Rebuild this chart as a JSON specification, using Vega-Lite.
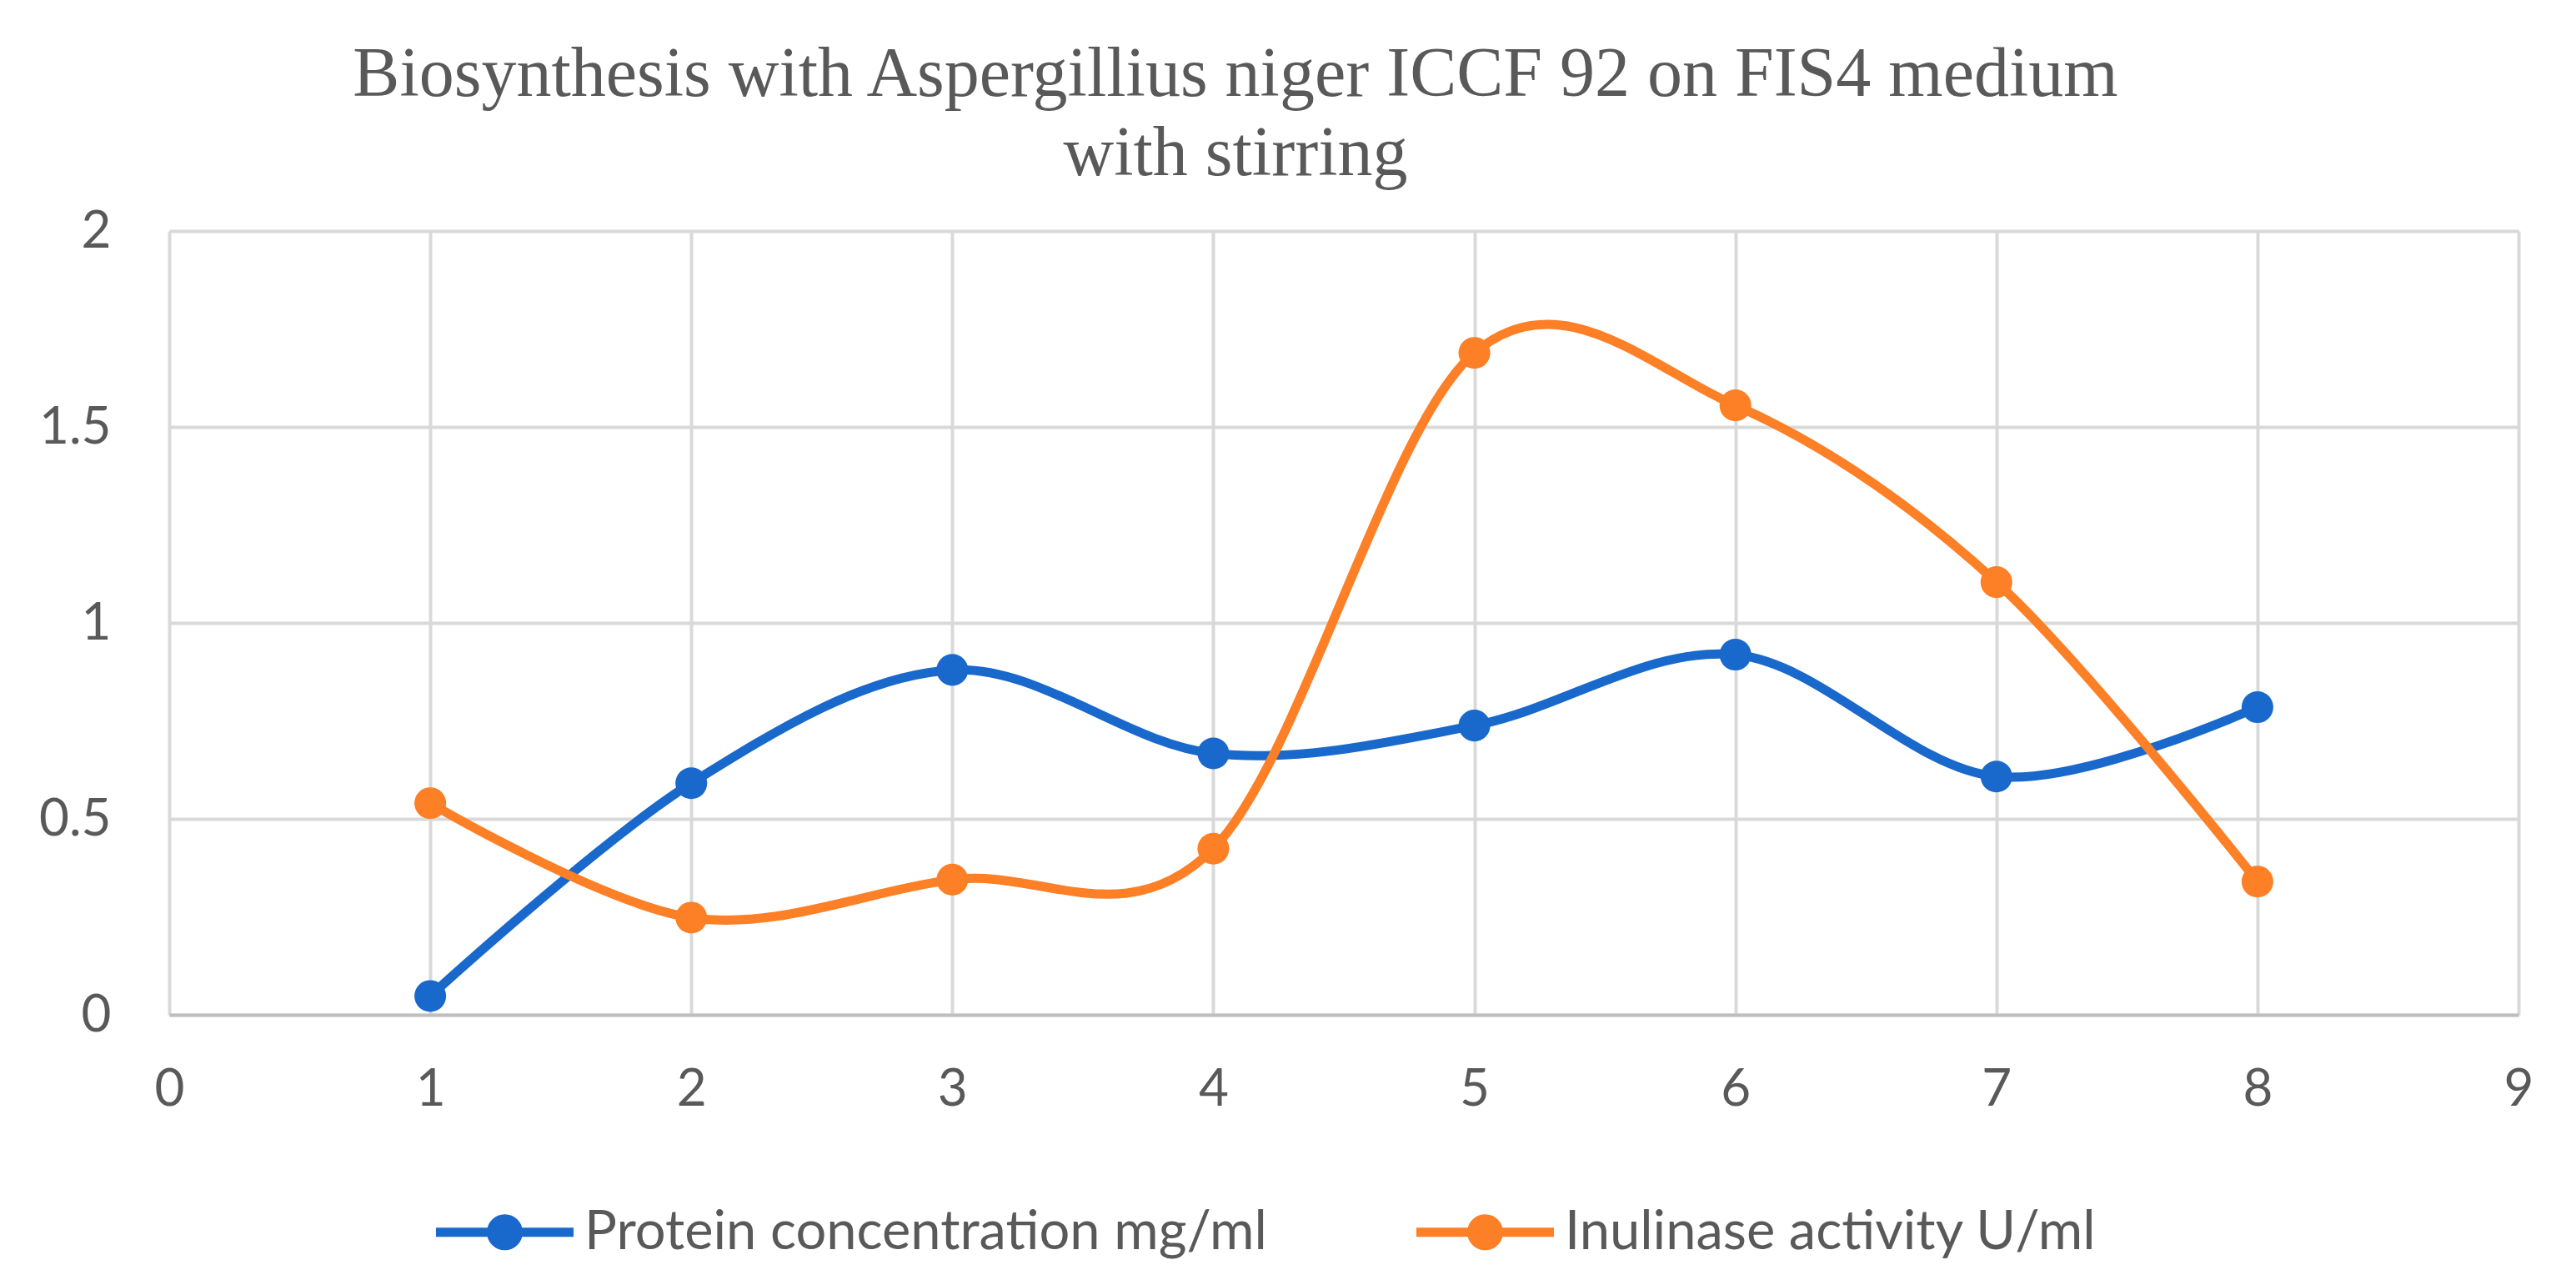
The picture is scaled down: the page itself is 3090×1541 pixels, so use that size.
{
  "$schema": "https://vega.github.io/schema/vega-lite/v6.json",
  "width": 2818,
  "height": 940,
  "autosize": {"type": "none"},
  "padding": {"left": 203, "right": 69, "top": 277, "bottom": 324},
  "background": "white",
  "title": {
    "text": ["Biosynthesis with Aspergillius niger ICCF 92 on FIS4 medium", "with stirring"],
    "font": "Liberation Serif",
    "fontSize": 84,
    "fontWeight": "normal",
    "color": "#595959",
    "lineHeight": 95,
    "anchor": "middle",
    "frame": "group",
    "dx": -130,
    "offset": 18
  },
  "data": {
    "values": [
      {"day": 1, "series": "Protein concentration mg/ml", "value": 0.048},
      {"day": 2, "series": "Protein concentration mg/ml", "value": 0.591},
      {"day": 3, "series": "Protein concentration mg/ml", "value": 0.88},
      {"day": 4, "series": "Protein concentration mg/ml", "value": 0.667},
      {"day": 5, "series": "Protein concentration mg/ml", "value": 0.738},
      {"day": 6, "series": "Protein concentration mg/ml", "value": 0.919},
      {"day": 7, "series": "Protein concentration mg/ml", "value": 0.608},
      {"day": 8, "series": "Protein concentration mg/ml", "value": 0.785},
      {"day": 1, "series": "Inulinase activity U/ml", "value": 0.54},
      {"day": 2, "series": "Inulinase activity U/ml", "value": 0.248},
      {"day": 3, "series": "Inulinase activity U/ml", "value": 0.345},
      {"day": 4, "series": "Inulinase activity U/ml", "value": 0.424},
      {"day": 5, "series": "Inulinase activity U/ml", "value": 1.689},
      {"day": 6, "series": "Inulinase activity U/ml", "value": 1.555},
      {"day": 7, "series": "Inulinase activity U/ml", "value": 1.104},
      {"day": 8, "series": "Inulinase activity U/ml", "value": 0.34}
    ]
  },
  "encoding": {
    "x": {
      "field": "day",
      "type": "quantitative",
      "scale": {"domain": [0, 9], "nice": false},
      "axis": {
        "title": null,
        "values": [0, 1, 2, 3, 4, 5, 6, 7, 8, 9],
        "labelFont": "Lato",
        "labelFontSize": 62,
        "labelColor": "#595959",
        "labelPadding": 59,
        "labelFlush": false,
        "ticks": false,
        "domainColor": "#bfbfbf",
        "domainWidth": 4,
        "gridColor": "#d9d9d9",
        "gridWidth": 4
      }
    },
    "y": {
      "field": "value",
      "type": "quantitative",
      "scale": {"domain": [0, 2], "nice": false},
      "axis": {
        "title": null,
        "values": [0, 0.5, 1, 1.5, 2],
        "format": "~g",
        "labelFont": "Lato",
        "labelFontSize": 62,
        "labelColor": "#595959",
        "labelPadding": 70,
        "labelFlush": false,
        "ticks": false,
        "domain": false,
        "gridColor": "#d9d9d9",
        "gridWidth": 4
      }
    },
    "color": {
      "field": "series",
      "type": "nominal",
      "sort": ["Protein concentration mg/ml", "Inulinase activity U/ml"],
      "scale": {
        "domain": ["Protein concentration mg/ml", "Inulinase activity U/ml"],
        "range": ["#1968cc", "#fd7f26"]
      },
      "legend": {
        "title": null,
        "orient": "none",
        "direction": "horizontal",
        "legendX": 370,
        "legendY": 1168,
        "padding": 0,
        "labelFont": "Lato",
        "labelFontSize": 65,
        "labelColor": "#595959",
        "labelLimit": 0,
        "labelOffset": 63,
        "columnPadding": 157,
        "symbolType": "M-4.125,0L4.125,0M0.8,0A0.8,0.8,0,1,1,-0.8,0A0.8,0.8,0,1,1,0.8,0Z",
        "symbolSize": 1600,
        "symbolStrokeWidth": 11
      }
    }
  },
  "layer": [
    {"mark": {"type": "line", "interpolate": "cardinal", "strokeWidth": 11}},
    {"mark": {"type": "point", "filled": true, "opacity": 1, "size": 1450}}
  ]
}
